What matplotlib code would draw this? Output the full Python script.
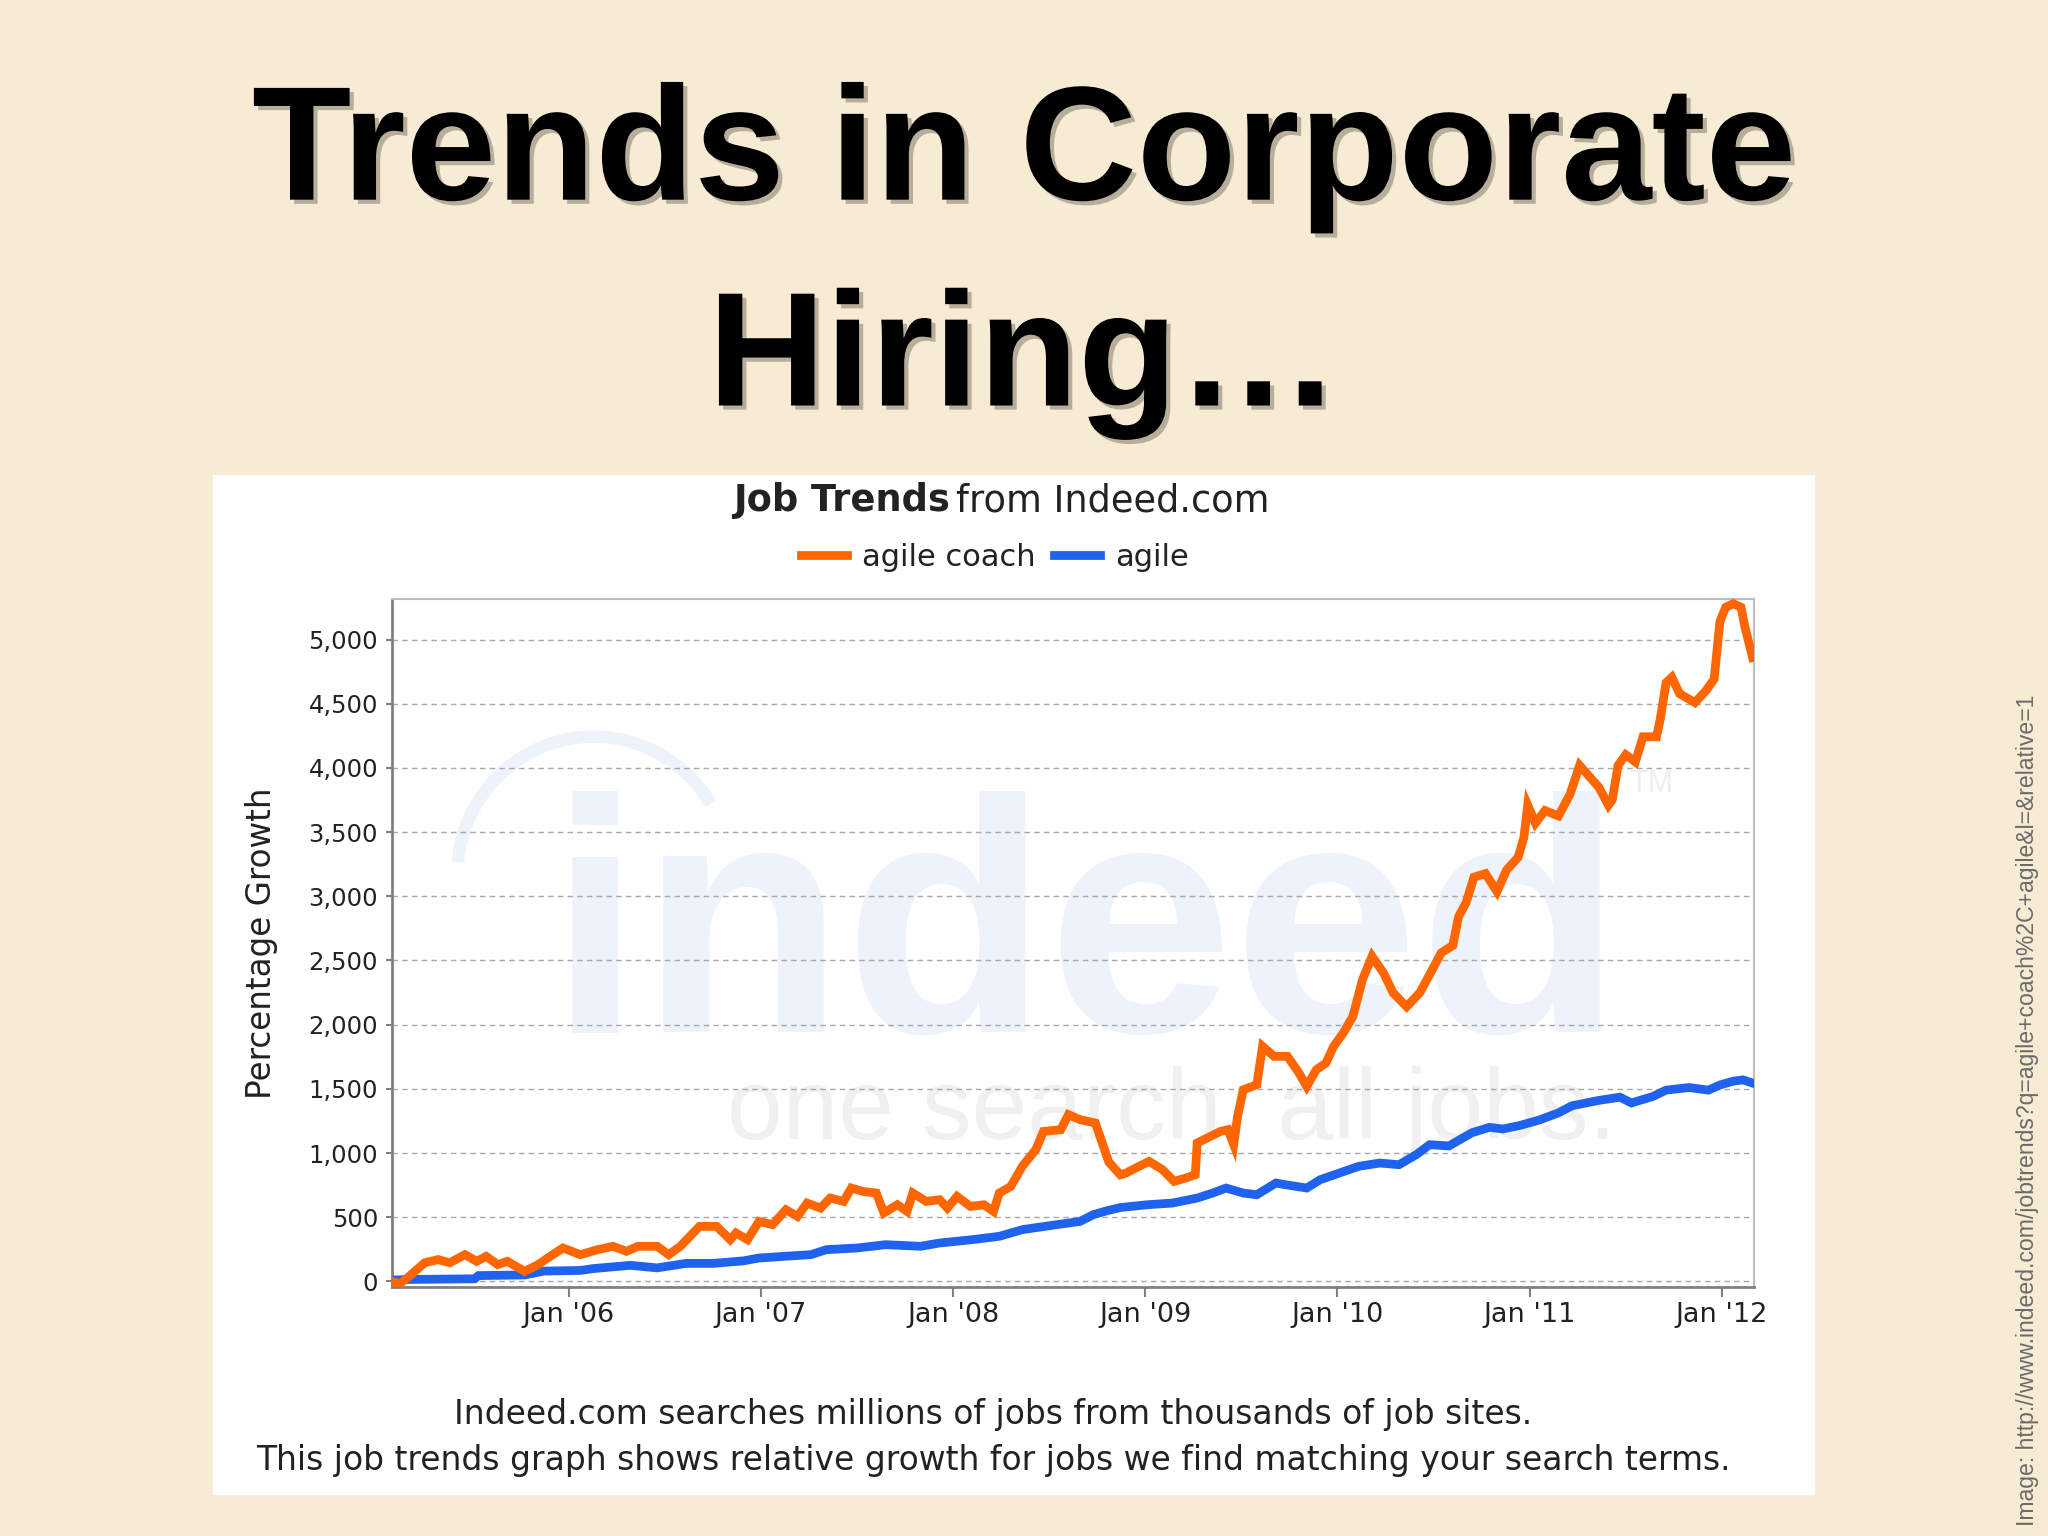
import matplotlib
matplotlib.use("Agg")
import matplotlib.pyplot as plt
import matplotlib.patheffects as pe
from matplotlib.patches import Rectangle, Arc
from matplotlib.ticker import FuncFormatter

# data (decimal year, % growth)
coach_x = [2005.08, 2005.12, 2005.17, 2005.25, 2005.32, 2005.38, 2005.46, 2005.52, 2005.57, 2005.63,
           2005.68, 2005.77, 2005.84, 2005.89, 2005.97, 2006.06, 2006.15, 2006.23, 2006.30, 2006.36,
           2006.46, 2006.52, 2006.58, 2006.68, 2006.77, 2006.84, 2006.87, 2006.93, 2006.99, 2007.06,
           2007.13, 2007.19, 2007.24, 2007.31, 2007.36, 2007.43, 2007.47, 2007.53, 2007.60, 2007.64,
           2007.71, 2007.76, 2007.79, 2007.86, 2007.93, 2007.97, 2008.02, 2008.09, 2008.16, 2008.21,
           2008.24, 2008.30, 2008.36, 2008.43, 2008.47, 2008.56, 2008.60, 2008.66, 2008.74, 2008.77,
           2008.81, 2008.87, 2008.90, 2008.95, 2009.02, 2009.09, 2009.15, 2009.21, 2009.26, 2009.27,
           2009.34, 2009.39, 2009.43, 2009.46, 2009.48, 2009.51, 2009.58, 2009.61, 2009.67, 2009.74,
           2009.80, 2009.84, 2009.89, 2009.94, 2009.98, 2010.03, 2010.08, 2010.13, 2010.18, 2010.24,
           2010.29, 2010.36, 2010.43, 2010.48, 2010.54, 2010.60, 2010.63, 2010.67, 2010.71, 2010.77,
           2010.83, 2010.88, 2010.94, 2010.97, 2010.99, 2011.03, 2011.08, 2011.15, 2011.21, 2011.26,
           2011.31, 2011.36, 2011.41, 2011.43, 2011.46, 2011.50, 2011.55, 2011.59, 2011.66, 2011.68,
           2011.71, 2011.74, 2011.78, 2011.86, 2011.92, 2011.96, 2011.99, 2012.02, 2012.06, 2012.10,
           2012.12, 2012.16]
coach_y = [0, -20, 40, 145, 170, 145, 208, 156, 195, 130,
           156, 78, 130, 182, 260, 208, 247, 273, 234, 273,
           273, 208, 273, 428, 428, 325, 377, 325, 467, 442,
           558, 506, 610, 571, 649, 623, 727, 701, 688, 533,
           597, 545, 688, 623, 636, 571, 662, 584, 597, 545,
           688, 740, 896, 1026, 1168, 1182, 1299, 1260, 1234, 1104,
           930, 830, 844, 883, 935, 870, 779, 805, 831, 1078,
           1130, 1168, 1182, 1065, 1285, 1493, 1532, 1831, 1753, 1753,
           1623, 1519, 1649, 1701, 1831, 1935, 2064, 2350, 2532, 2402,
           2247, 2140, 2252, 2392, 2560, 2617, 2841, 2953, 3149, 3177,
           3037, 3205, 3304, 3458, 3710, 3570, 3668, 3626, 3794, 4019,
           3934, 3850, 3710, 3752, 4019, 4103, 4047, 4243, 4243, 4383,
           4664, 4706, 4579, 4509, 4607, 4692, 5140, 5252, 5280, 5252,
           5100, 4860]

agile_x = [2005.08, 2005.18, 2005.51, 2005.53, 2005.77, 2005.87, 2006.06, 2006.13, 2006.32, 2006.46,
           2006.61, 2006.75, 2006.91, 2006.99, 2007.12, 2007.26, 2007.34, 2007.50, 2007.65, 2007.83,
           2007.93, 2008.10, 2008.24, 2008.36, 2008.54, 2008.66, 2008.73, 2008.80, 2008.87, 2009.01,
           2009.14, 2009.27, 2009.35, 2009.42, 2009.51, 2009.58, 2009.68, 2009.73, 2009.84, 2009.91,
           2010.01, 2010.11, 2010.22, 2010.32, 2010.41, 2010.48, 2010.58, 2010.70, 2010.79, 2010.86,
           2010.95, 2011.05, 2011.15, 2011.22, 2011.36, 2011.47, 2011.53, 2011.64, 2011.71, 2011.83,
           2011.93, 2011.99, 2012.06, 2012.11, 2012.16]
agile_y = [10, 15, 20, 45, 50, 80, 85, 100, 125, 105,
           140, 140, 160, 182, 195, 208, 247, 260, 286, 273,
           299, 325, 351, 403, 442, 467, 520, 550, 575, 597,
           610, 649, 688, 727, 688, 675, 766, 753, 727, 792,
           844, 896, 922, 909, 987, 1065, 1055, 1158, 1200, 1187,
           1215, 1257, 1313, 1368, 1410, 1435, 1390, 1440, 1490, 1510,
           1490, 1530, 1560, 1570, 1545]

year_ticks = [2006, 2007, 2008, 2009, 2010, 2011, 2012]
year_labels = ["Jan '06", "Jan '07", "Jan '08", "Jan '09", "Jan '10", "Jan '11", "Jan '12"]
y_ticks = list(range(0, 5001, 500))

orange = "#FF6600"
blue = "#1F62EE"

fig = plt.figure(figsize=(20.48, 15.36), dpi=100, facecolor="#F7EBD4")

# slide title
shadow = [pe.SimplePatchShadow(offset=(3, -3), shadow_rgbFace="#6b6257", alpha=0.45), pe.Normal()]
fig.text(0.5, 0.870, "Trends in Corporate", ha="center", va="baseline", fontsize=117,
         fontweight="bold", family="Liberation Sans", color="black", path_effects=shadow)
fig.text(0.5, 0.736, "Hiring\u2026", ha="center", va="baseline", fontsize=117,
         fontweight="bold", family="Liberation Sans", color="black", path_effects=shadow)

# white chart panel
fig.patches.append(Rectangle((0.104, 0.027), 0.782, 0.664, transform=fig.transFigure,
                             facecolor="white", edgecolor="none", zorder=-1))

ax = fig.add_axes([0.1914, 0.1621, 0.665, 0.4479])
ax.set_facecolor("white")

# faint indeed watermark
ax.add_patch(Arc((0.148, 0.60), 0.20, 0.40, theta1=50, theta2=170, transform=ax.transAxes,
                 color="#EEF2FB", lw=9, zorder=0))
ax.text(0.115, 0.371, "indeed", transform=ax.transAxes, fontsize=240, fontweight="bold",
        family="Liberation Sans", color="#EEF2FB", ha="left", va="baseline", zorder=0)
ax.text(0.246, 0.215, "one search. all jobs.", transform=ax.transAxes, fontsize=72,
        family="Liberation Sans", color="#F0F0F3", ha="left", va="baseline", zorder=0)
ax.text(0.925, 0.731, "TM", transform=ax.transAxes, fontsize=22,
        family="Liberation Sans", color="#EEEEF2", ha="center", va="center", zorder=0)

ax.plot(agile_x, agile_y, color=blue, lw=6.3, solid_joinstyle="miter", zorder=3, label="agile")
ax.plot(coach_x, coach_y, color=orange, lw=6.3, solid_joinstyle="miter", zorder=4, label="agile coach")

ax.set_xlim(2005.08, 2012.167)
ax.set_ylim(-44, 5316)
ax.set_xticks(year_ticks)
ax.set_xticklabels(year_labels)
ax.set_yticks(y_ticks)
ax.yaxis.set_major_formatter(FuncFormatter(lambda v, p: f"{int(v):,}"))
ax.grid(axis="y", color="#A8A8A8", linestyle=(0, (4, 3)), linewidth=1.0, zorder=1)
ax.set_axisbelow(True)

ax.tick_params(axis="x", length=7, width=1.5, color="#808080", pad=4, labelsize=19.5, labelcolor="#222222")
ax.tick_params(axis="y", length=4, width=1.5, color="#808080", pad=6, labelsize=17.5, labelcolor="#222222")
for s in ["left", "bottom"]:
    ax.spines[s].set_color("#808080")
    ax.spines[s].set_linewidth(2.0)
for s in ["top", "right"]:
    ax.spines[s].set_color("#BDBDBD")
    ax.spines[s].set_linewidth(1.5)

ax.set_ylabel("Percentage Growth", fontsize=23.5, color="#222222")
ax.yaxis.set_label_coords(-0.084, 0.5)

fig.text(0.464, 0.674, "Job Trends", ha="right", va="center", fontsize=26.5, fontweight="bold", color="#222222")
fig.text(0.467, 0.674, "from Indeed.com", ha="left", va="center", fontsize=26.5, color="#222222")

h, l = ax.get_legend_handles_labels()
fig.legend(h[::-1], l[::-1], loc="center", bbox_to_anchor=(0.486, 0.637), ncol=2, frameon=False,
           fontsize=22, handlelength=1.5, columnspacing=0.6, handletextpad=0.5,
           labelcolor="#222222")

fig.text(0.485, 0.079, "Indeed.com searches millions of jobs from thousands of job sites.",
         ha="center", va="center", fontsize=23.7, color="#222222")
fig.text(0.485, 0.049, "This job trends graph shows relative growth for jobs we find matching your search terms.",
         ha="center", va="center", fontsize=23.7, color="#222222")

fig.text(0.990, 0.277, "Image: http://www.indeed.com/jobtrends?q=agile+coach%2C+agile&l=&relative=1",
         rotation=90, ha="center", va="center", fontsize=16.6, family="Liberation Sans", color="#6a6a6a")

fig.savefig("out.png", dpi=100, facecolor=fig.get_facecolor())
